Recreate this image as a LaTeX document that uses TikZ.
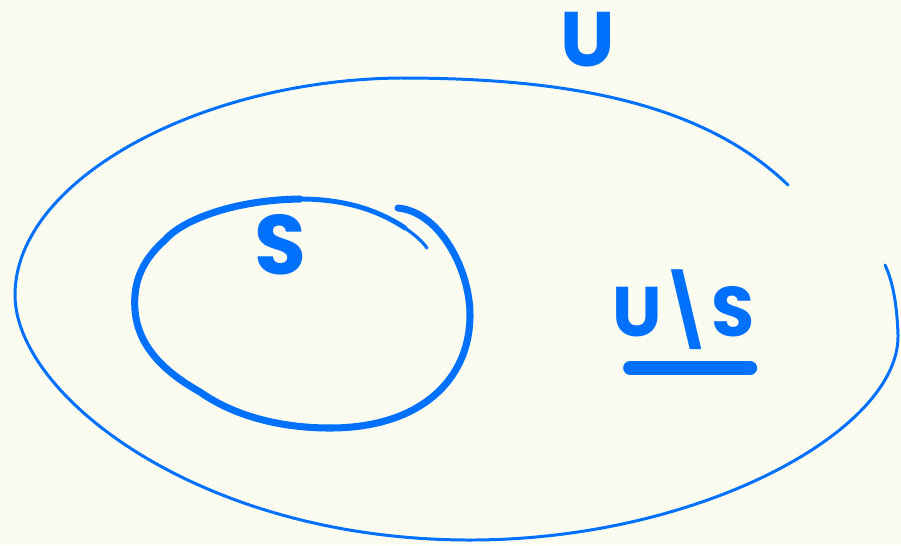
\documentclass[tikz,border=0pt]{standalone}
\usepackage{fontspec}
\setmainfont{Poppins}
\usepackage{tikz}
\usetikzlibrary{positioning}
\definecolor{inkblue}{RGB}{0, 112, 255}
\definecolor{paper}{RGB}{251, 251, 240}

\begin{document}
\begin{tikzpicture}[
    x=0.02cm, y=-0.02cm,
    setline/.style  = {draw=inkblue, line width=1.7pt, line cap=round},
    subline/.style  = {draw=inkblue, line width=4pt, line cap=round},
    tailline/.style = {draw=inkblue, line width=1.8pt, line cap=round},
    lbl/.style      = {text=inkblue, inner sep=0pt, font=\bfseries\fontsize{#1}{#1}\selectfont},
    uline/.style    = {draw=inkblue, line width=8pt, line cap=round},
  ]

  %% Background and page size
  \fill[paper] (0,0) rectangle (901,545);
  \useasboundingbox (0,0) rectangle (901,545);

  %% Universe (open at upper right)
  \draw[setline] (788,185) .. controls (700,100) and (560,78) .. (400,78)
                 .. controls (200,80) and (15,180) .. (15,295)
                 .. controls (15,395) and (200,540) .. (470,540)
                 .. controls (700,540) and (900,430) .. (898,335)
                 .. controls (897,305) and (893,282) .. (885,265);

  %% Subset S
  \draw[draw=inkblue, line width=2.8pt, line cap=round]
        (300,199) .. controls (340,199) and (375,208) .. (405,228);
  \draw[tailline] (405,228) .. controls (415,235) and (422,241) .. (427,248);
  \draw[subline] (300,199) .. controls (230,200) and (180,222) .. (165,240)
                 .. controls (140,262) and (133,285) .. (135,310)
                 .. controls (138,350) and (170,375) .. (200,392)
                 .. controls (240,420) and (290,428) .. (330,428)
                 .. controls (420,428) and (470,380) .. (470,315)
                 .. controls (470,270) and (440,212) .. (398,208);

  %% Labels
  \node[lbl=44pt] (univ) at (588,40) {U};
  \node[lbl=48pt] (sub)  at (280,245) {S};
  \node[lbl=40pt] (diff) at (684,310) {U\kern-2pt\textbackslash\kern-2pt S};

  %% Underline of the complement
  \draw[uline] ([xshift=10pt,yshift=-10pt]diff.south west)
            -- ([xshift=-3pt,yshift=-10pt]diff.south east);

\end{tikzpicture}
\end{document}
